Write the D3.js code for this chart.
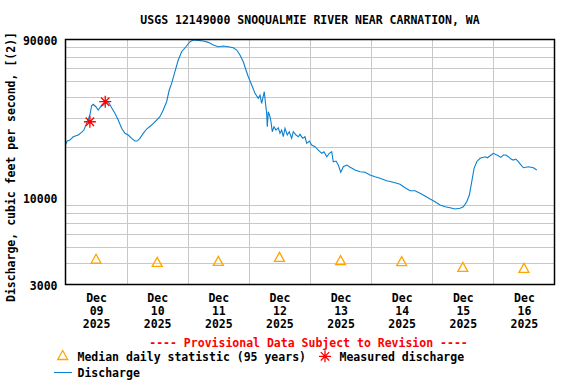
<!DOCTYPE html>
<html><head><meta charset="utf-8">
<script src="https://cdn.jsdelivr.net/npm/d3@7"></script>
<style>
html,body{margin:0;padding:0;background:#fff;}
svg text{font-family:"DejaVu Sans Mono",monospace;font-weight:bold;font-size:11.5px;fill:#000;}
</style></head>
<body><svg id="c" width="576" height="384"></svg>
<script>
const title = "USGS 12149000 SNOQUALMIE RIVER NEAR CARNATION, WA";
const yLabel = "Discharge, cubic feet per second, [(2)]";
const dayLabels = ["09","10","11","12","13","14","15","16"];
const monthLabel = "Dec", yearLabel = "2025";
const yTickValues = [3000, 10000, 90000];
const yGridValues = [4000,5000,6000,7000,8000,9000,20000,30000,40000,50000,60000,70000,80000];
// hours after 2025-12-09 00:00
const dischargeHours = [0,0.67,1.73,3.02,4.99,6.32,7.23,8.29,9.58,10.25,
10.88,11.94,12.84,13.79,14.81,16.14,17.17,18.11,19.40,20.70,
22.04,23.33,24.63,25.96,27.26,28.16,29.22,30.52,31.86,33.82,
35.78,37.08,38.38,39.71,40.73,41.68,42.97,44.27,45.60,47.29,
48.86,50.16,52.12,54.09,56.05,58.02,59.98,61.94,63.91,65.87,
67.21,68.50,69.80,70.86,71.77,73.10,
74.40,75.69,76.36,77.03,78.05,78.60,78.99,79.23,79.62,80.29,
80.68,81.19,81.86,82.65,83.55,84.22,84.88,85.51,86.18,87.08,
87.87,88.81,89.44,90.50,91.40,92.07,93.13,94.03,94.70,95.73,
96.67,97.96,99.26,100.60,101.50,102.56,103.58,104.52,105.15,106.21,
107.12,108.06,109.08,110.42,111.44,
113.67,115.64,117.60,119.57,121.53,123.49,
126.13,128.72,131.35,133.32,135.28,137.24,139.21,141.17,143.14,145.10,
147.06,149.03,150.99,152.95,154.92,156.21,157.55,158.57,159.51,160.42,
161.48,162.77,164.74,165.7,166.70,167.4,168.00,169.96,170.9,171.93,172.9,173.89,174.9,175.85,176.8,177.82,178.8,
179.78,181.75,183.71,185.04];
const dischargeValues = [20650,21830,22140,23170,23730,24630,25430,27900,31320,35640,
36340,35150,33580,35150,35970,37680,36840,34670,32080,29220,
26040,24290,23730,22660,21830,21830,22660,24290,25790,27260,
29220,30590,33580,37680,44320,48630,57140,67210,75420,80830,
86630,88700,88300,87450,85910,82750,80830,81600,80830,79700,
77210,72040,65650,58490,53290,47500,
42330,39490,41350,36840,43280,35970,32080,26630,32800,30590,
28540,24840,26630,25430,26260,24290,25430,23170,26040,23730,
24840,22660,24840,23730,23170,23960,22660,23170,21140,21830,
20650,20180,19270,18410,18820,17560,18410,18820,16380,16540,
15650,14140,15280,15650,15280,
14600,14260,14140,13620,13300,13010,
12580,12310,11970,11420,10950,10950,10570,10180,9760,9400,
8980,8770,8650,8500,8580,8770,9400,10320,12410,14950,
16380,17170,17560,17300,17800,18100,18410,17800,17400,17980,18000,17560,17000,16770,17000,16380,15700,
15070,15280,15070,14600];
const measuredHours = [9.58, 15.6];
const measuredValues = [28540, 37680];
const medianValues = [4230, 4050, 4110, 4340, 4150, 4090, 3780, 3730];

const t0 = new Date(2025, 11, 9);
const H = 3600e3;
const toDate = h => new Date(t0.getTime() + h * H);

const svg = d3.select("#c");
const L = 65.5, R = 554.5, T = 39.5, B = 284.5;
const x = d3.scaleTime().domain([t0, toDate(192)]).range([L, R]);
const y = d3.scaleLog().domain([3000, 90000]).range([284, 39]);

// grid
const g = svg.append("g");
g.selectAll(".hg").data(yGridValues).join("line")
  .attr("x1", L).attr("x2", R)
  .attr("y1", d => Math.round(y(d)) + 0.5).attr("y2", d => Math.round(y(d)) + 0.5)
  .attr("stroke", "#c8c8c8").attr("stroke-width", 1);
const midnights = d3.range(1, 8).map(d => toDate(d * 24));
g.selectAll(".vg").data(midnights).join("line")
  .attr("x1", d => Math.round(x(d)) + 0.5).attr("x2", d => Math.round(x(d)) + 0.5)
  .attr("y1", T).attr("y2", B)
  .attr("stroke", "#c8c8c8").attr("stroke-width", 1);

// discharge line
const pts = dischargeHours.map((h, i) => [toDate(h), dischargeValues[i]]);
svg.append("path").datum(pts)
  .attr("fill", "none").attr("stroke", "#0a80d0").attr("stroke-width", 1.1)
  .attr("d", d3.line().x(d => x(d[0])).y(d => y(d[1])));

// median triangles
const triPath = "M0,-5L5,4L-5,4Z";
svg.selectAll(".med").data(medianValues).join("path")
  .attr("transform", (d, i) => `translate(${x(toDate(i * 24 + 12))},${y(d)})`)
  .attr("d", triPath).attr("fill", "none").attr("stroke", "#ffa500").attr("stroke-width", 1.3);

// measured asterisks
const star = "M-6,0L6,0M0,-6L0,6M-4.2,-4.2L4.2,4.2M-4.2,4.2L4.2,-4.2";
svg.selectAll(".meas").data(measuredValues).join("path")
  .attr("transform", (d, i) => `translate(${x(toDate(measuredHours[i]))},${y(d)})`)
  .attr("d", star).attr("fill", "none").attr("stroke", "#ff0000").attr("stroke-width", 1.3);

// frame
svg.append("rect").attr("x", L).attr("y", T).attr("width", R - L).attr("height", B - T)
  .attr("fill", "none").attr("stroke", "#000").attr("stroke-width", 1.5);

// y axis
const yAxis = svg.append("g").attr("transform", `translate(${L},0)`)
  .call(d3.axisLeft(y).tickValues(yTickValues).tickSize(0).tickPadding(8).tickFormat(d3.format("d")));
yAxis.select(".domain").remove();
yAxis.attr("font-family", null).attr("font-size", null);
yAxis.selectAll("text").attr("dy", "0.45em");

// x axis
const noons = dayLabels.map((d, i) => toDate(i * 24 + 12));
const xAxis = svg.append("g").attr("transform", `translate(0,${B})`)
  .call(d3.axisBottom(x).tickValues(noons).tickSize(0).tickPadding(0).tickFormat(() => ""));
xAxis.select(".domain").remove();
xAxis.attr("font-family", null).attr("font-size", null);
xAxis.selectAll(".tick text").each(function(d, i) {
  const t = d3.select(this).attr("y", 0).attr("dy", null);
  t.append("tspan").attr("x", 0).attr("y", 17.3).text(monthLabel);
  t.append("tspan").attr("x", 0).attr("y", 30.6).text(dayLabels[i]);
  t.append("tspan").attr("x", 0).attr("y", 43.9).text(yearLabel);
});

// title
svg.append("text").attr("x", (L + R) / 2).attr("y", 24).attr("text-anchor", "middle").text(title);
// y label
svg.append("text").attr("transform", "translate(14.5,167) rotate(-90)").attr("text-anchor", "middle").text(yLabel);

// legend
svg.append("text").attr("x", 308.5).attr("y", 346.5).attr("text-anchor", "middle")
  .style("fill", "#ff0000").text("---- Provisional Data Subject to Revision ----");
svg.append("path").attr("transform", "translate(62.7,355.5)").attr("d", triPath)
  .attr("fill", "none").attr("stroke", "#ffa500").attr("stroke-width", 1.3);
svg.append("text").attr("x", 77.5).attr("y", 361).text("Median daily statistic (95 years)");
svg.append("path").attr("transform", "translate(325,356.3)").attr("d", star)
  .attr("fill", "none").attr("stroke", "#ff0000").attr("stroke-width", 1.3);
svg.append("text").attr("x", 339.5).attr("y", 361).text("Measured discharge");
svg.append("line").attr("x1", 54).attr("x2", 72).attr("y1", 372.5).attr("y2", 372.5)
  .attr("stroke", "#0a80d0").attr("stroke-width", 1);
svg.append("text").attr("x", 77.5).attr("y", 377).text("Discharge");
</script></body></html>
